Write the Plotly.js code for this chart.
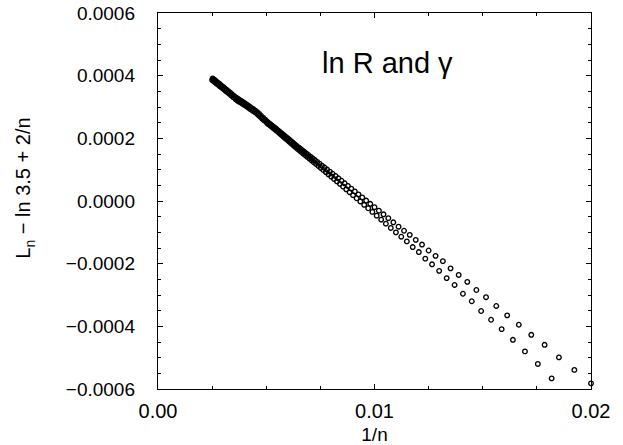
<!DOCTYPE html>
<html>
<head>
<meta charset="utf-8">
<script src="https://cdn.plot.ly/plotly-3.0.1.min.js"></script>
<style>html,body{margin:0;padding:0;background:#fff;}</style>
</head>
<body>
<div id="chart" style="width:623px;height:445px;"></div>
<script>
// n values (x axis is 1/n); y values in units of 1e-6
const nEven = [50,52,54,56,58,60,62,64,66,68,70,72,74,76,78,80,82,84,86,88,90,92];
const yEvenE6 = [-582,-539,-499,-459,-427,-395,-365,-335,-307,-284,-258,-236,-215,-192,-175,-158,-139,-124,-108,-95,-82,-68];
const nOdd = [55,57,59,61,63,65,67,69,71,73,75,77,79,81,83,85,87,89,91];
const yOddE6 = [-566,-520,-480,-443,-409,-379,-351,-320,-296,-268,-246,-223,-202,-184,-163,-147,-129,-114,-100];
const nDense = [93,94,95,96,97,98,99,100,101,102,103,104,105,106,107,108,109,110,111,112,113,114,115,116,117,118,119,120,
  121,122,123,124,125,126,127,128,129,130,131,132,133,134,135,136,137,138,139,140,141,142,143,144,145,146,147,148,149,150,
  151,152,153,154,155,156,157,158,159,160,161,162,163,164,165,166,167,168,169,170,171,172,173,174,175,176,177,178,179,180,
  181,182,183,184,185,186,187,188,189,190,191,192,193,194,195,196,197,198,199,200,
  202,204,206,208,210,212,214,216,218,220,222,224,226,228,230,232,234,236,238,240,
  242,244,246,248,250,252,254,256,258,260,262,264,266,268,270,272,274,276,278,280,
  284,288,292,296,300,304,308,312,316,320,324,328,332,336,340,344,348,352,356,360,
  364,368,372,376,380,384,388,392,396,400];
const yDenseE6 = [-86.0,-54.7,-72.3,-42.5,-59.3,-30.9,-46.8,-19.7,-34.8,-8.9,-23.2,1.5,-12.2,11.5,-1.5,21.2,8.7,30.5,18.6,39.4,28.1,48.1,37.3,56.5,46.2,64.6,54.7,72.4,
  62.9,79.9,70.6,87.0,78.0,93.8,85.2,100.4,92.2,106.8,99.0,113.0,105.5,119.1,111.8,124.9,118.0,130.7,123.9,136.2,129.7,141.6,135.3,146.9,140.8,151.9,146.1,157.0,151.3,161.8,
  156.4,166.6,161.2,171.2,166.0,175.6,170.9,180.4,175.7,185.0,180.5,189.4,185.1,193.7,189.6,198.0,194.0,202.1,198.2,206.1,202.4,210.0,206.5,213.8,210.4,217.5,214.3,221.2,218.1,224.7,
  221.8,228.2,225.4,231.5,228.7,234.7,232.0,237.7,235.1,240.8,238.2,243.9,241.2,246.8,244.2,249.6,247.1,252.5,249.9,255.5,
  259.7,256.9,266.0,263.1,272.1,269.0,277.9,274.8,283.6,280.1,288.0,284.0,291.9,287.8,295.6,291.5,299.2,295.0,302.7,298.4,
  306.1,301.7,309.2,304.7,312.1,307.6,315.0,310.3,317.7,313.0,320.4,315.6,322.9,318.2,325.4,320.6,327.8,323.2,330.7,326.2,
  335.0,331.8,340.6,337.2,345.8,342.3,350.8,347.2,355.5,351.7,359.8,355.9,364.0,360.0,367.9,363.8,371.7,367.5,375.3,371.0,
  378.7,374.4,382.0,377.6,385.2,380.7,388.2,383.6,391.1,386.5];

const xTickLabels = ['0.00','0.01','0.02'];
const xTickVals = [0, 0.01, 0.02];

const nAll = nEven.concat(nOdd, nDense);
const yAllE6 = yEvenE6.concat(yOddE6, yDenseE6);
const xs = nAll.map(n => 1 / n);
const ys = yAllE6.map(v => v * 1e-6);

const FONT = 'Liberation Sans, Arial, Helvetica, sans-serif';

const trace = {
  x: xs, y: ys, type: 'scatter', mode: 'markers', cliponaxis: false,
  marker: {symbol: 'circle-open', size: 4.6, color: '#000', line: {width: 1.3, color: '#000'}},
  hoverinfo: 'skip'
};

const axisCommon = {
  showline: true, linecolor: '#000', linewidth: 1.2, mirror: 'ticks',
  ticks: 'inside', ticklen: 5, tickwidth: 1, tickcolor: '#000',
  showgrid: false, zeroline: false
};

const layout = {
  width: 623, height: 445,
  margin: {l: 158, r: 32, t: 13, b: 56},
  paper_bgcolor: '#fff', plot_bgcolor: '#fff',
  showlegend: false,
  xaxis: Object.assign({}, axisCommon, {
    range: [0, 0.02], tickvals: xTickVals, ticktext: xTickLabels,
    minor: {dtick: 0.0025, tick0: 0, ticks: 'inside', ticklen: 3, tickcolor: '#000', tickwidth: 1, showgrid: false},
    tickfont: {family: FONT, size: 20, color: '#000'},
    ticklabelstandoff: 4,
    title: {text: '1/n', font: {family: FONT, size: 19, color: '#000'}, standoff: 9}
  }),
  yaxis: Object.assign({}, axisCommon, {
    range: [-0.0006, 0.0006], dtick: 0.0002, tick0: 0, tickformat: '.4f',
    minor: {dtick: 0.00005, tick0: 0, ticks: 'inside', ticklen: 3, tickcolor: '#000', tickwidth: 1, showgrid: false},
    tickfont: {family: FONT, size: 19, color: '#000'},
    ticklabelstandoff: 18
  }),
  annotations: [
    {text: 'ln R and γ', xref: 'paper', yref: 'paper', x: 0.53, y: 0.867,
     xanchor: 'center', yanchor: 'middle', showarrow: false,
     font: {family: FONT, size: 29, color: '#000'}},
    {text: 'L<sub>n</sub> − ln 3.5 + 2/n', xref: 'paper', yref: 'paper', x: -0.307, y: 0.533,
     xanchor: 'center', yanchor: 'middle', textangle: -90, showarrow: false,
     font: {family: FONT, size: 20, color: '#000'}}
  ]
};

Plotly.newPlot('chart', [trace], layout, {staticPlot: true, displayModeBar: false});
</script>
</body>
</html>
